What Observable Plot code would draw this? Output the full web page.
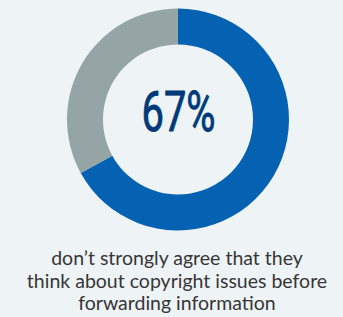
<!DOCTYPE html>
<html>
<head>
<meta charset="utf-8">
<script src="https://cdn.jsdelivr.net/npm/d3@7"></script>
<script src="https://cdn.jsdelivr.net/npm/@observablehq/plot@0.6"></script>
<style>
  html, body { margin: 0; padding: 0; background: #eef3f6; width: 343px; height: 317px; overflow: hidden; }
  #chart { position: absolute; left: 0; top: 0; }
  #caption { position: absolute; left: 11px; top: 247px; width: 332px; text-align: center;
    font-family: Lato, "Open Sans", sans-serif; font-size: 19.5px; line-height: 22.5px; color: #363636; }
  #caption p { margin: 0; }
</style>
</head>
<body>
<div id="chart"></div>
<div id="caption"></div>
<script>
const categories = ["Don’t strongly agree", "Strongly agree"];
const values = [67, 33];
const colors = ["#0561b2", "#95a5a6"];
const headline = "67%";
const captionLines = ["don’t strongly agree that they", "think about copyright issues before", "forwarding information"];

const data = categories.map((c, i) => ({category: c, value: values[i]}));

const W = 343, H = 240;
const mL = 13, mR = 0, mT = 0, mB = 1;

function donut(index, scales, vals, dims) {
  const cx = (dims.marginLeft + dims.width - dims.marginRight) / 2;
  const cy = (dims.marginTop + dims.height - dims.marginBottom) / 2;
  const pie = d3.pie().sort(null).value(d => d.value)(data);
  const arc = d3.arc().innerRadius(75).outerRadius(111);
  const g = d3.create("svg:g").attr("transform", `translate(${cx},${cy})`);
  g.selectAll("path").data(pie).join("path")
    .attr("d", arc)
    .attr("fill", d => scales.color(d.data.category));
  return g.node();
}

const plot = Plot.plot({
  width: W,
  height: H,
  marginLeft: mL, marginRight: mR, marginTop: mT, marginBottom: mB,
  style: {background: "transparent", overflow: "visible"},
  color: {domain: categories, range: colors},
  marks: [
    donut,
    Plot.text([headline], {
      frameAnchor: "middle",
      text: d => d,
      dy: -7,
      fill: "#003a78",
      stroke: "#003a78",
      strokeWidth: 0.9,
      fontSize: 55,
      fontWeight: 400,
      fontFamily: "Roboto, sans-serif",
      lineAnchor: "middle",
      className: "headline"
    })
  ]
});
d3.select(plot).selectAll(".headline text")
  .attr("textLength", 74)
  .attr("lengthAdjust", "spacingAndGlyphs");
document.getElementById("chart").appendChild(plot);
document.getElementById("caption").innerHTML = captionLines.map(l => `<p>${l}</p>`).join("");
</script>
</body>
</html>
